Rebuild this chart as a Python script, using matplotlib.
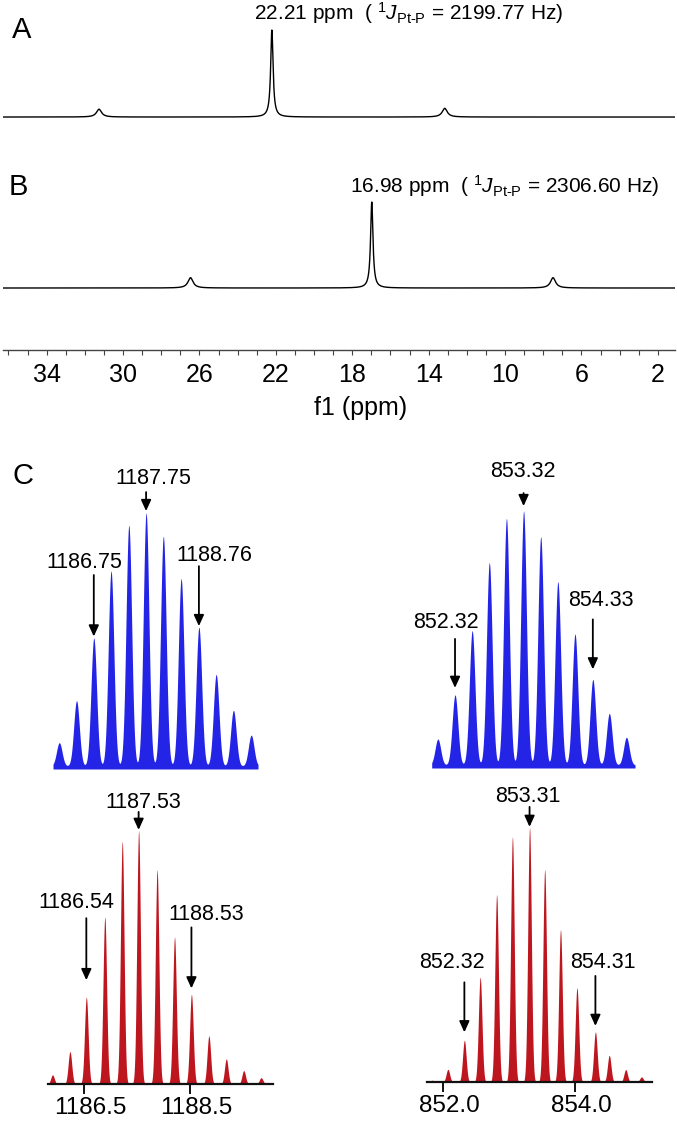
import numpy as np
import matplotlib
matplotlib.use('Agg')
import matplotlib.pyplot as plt
import matplotlib.transforms as mtransforms
from matplotlib.ticker import FixedLocator, MultipleLocator, FormatStrFormatter

plt.rcParams['font.family'] = ['Liberation Sans', 'DejaVu Sans']
plt.rcParams['mathtext.fontset'] = 'custom'
plt.rcParams['mathtext.rm'] = 'Liberation Sans'
plt.rcParams['mathtext.it'] = 'Liberation Sans:italic'
plt.rcParams['mathtext.bf'] = 'Liberation Sans:bold'

# 31P NMR: peak shifts (ppm) and relative heights (centre peak + 195Pt satellites)
a_shift = [31.26, 22.21, 13.16]
a_height = [0.09, 1.00, 0.10]
a_text = r'22.21 ppm  ( $^{\mathit{1}}J_{\mathrm{Pt\text{-}P}}$ = 2199.77 Hz)'

b_shift = [26.47, 16.98, 7.49]
b_height = [0.12, 1.00, 0.12]
b_text = r'16.98 ppm  ( $^{\mathit{1}}J_{\mathrm{Pt\text{-}P}}$ = 2306.60 Hz)'

nmr_ticks = [34, 30, 26, 22, 18, 14, 10, 6, 2]

# ESI-MS isotope patterns (m/z, relative intensity %)
blue_l_mz = [1186.09, 1186.42, 1186.75, 1187.08, 1187.42, 1187.75,
             1188.08, 1188.42, 1188.76, 1189.09, 1189.42, 1189.76]
blue_l_int = [9.2, 25.8, 50.6, 77.1, 95.2, 100, 90.8, 74.1, 54.9, 36.2, 22.0, 12.2]

blue_r_mz = [852.07, 852.32, 852.57, 852.82, 853.07, 853.32,
             853.57, 853.82, 854.07, 854.33, 854.57, 854.82]
blue_r_int = [10.2, 27.6, 52.9, 79.7, 97.1, 100, 89.9, 72.2, 51.6, 33.7, 20.3, 10.9]

red_l_mz = [1185.90, 1186.23, 1186.54, 1186.89, 1187.22, 1187.53, 1187.88,
            1188.21, 1188.53, 1188.86, 1189.19, 1189.52, 1189.85]
red_l_int = [3.6, 12.8, 34.3, 65.9, 95.8, 100, 84.6, 58.0, 35.4, 19.0, 9.9, 5.3, 2.5]

red_r_mz = [851.83, 852.07, 852.32, 852.56, 852.81, 853.05, 853.31,
            853.54, 853.78, 854.03, 854.31, 854.52, 854.77, 855.01]
red_r_int = [0.7, 5.0, 16.4, 41.2, 73.7, 96.4, 100, 83.6, 59.9, 37.1, 19.7, 10.5, 4.9, 2.0]

red_l_ticks = [1186.5, 1188.5]
red_r_ticks = [852.0, 854.0]

# labelled peaks (index into the arrays above) and their labels
blue_l_marks = [(5, '1187.75'), (2, '1186.75'), (8, '1188.76')]
blue_r_marks = [(5, '853.32'), (1, '852.32'), (9, '854.33')]
red_l_marks = [(5, '1187.53'), (2, '1186.54'), (8, '1188.53')]
red_r_marks = [(6, '853.31'), (2, '852.32'), (10, '854.31')]

# ---------------------------------------------------------------
W, H = 677, 1124
PT = 72 / 100.0  # points per pixel
fig = plt.figure(figsize=(W / 100, H / 100), dpi=100)


def box(x0, y0, x1, y1):
    # axes from a pixel box (top-left origin)
    return fig.add_axes([x0 / W, 1 - y1 / H, (x1 - x0) / W, (y1 - y0) / H])


def lorentz(x, centres, heights, hw):
    y = np.zeros_like(x)
    for c, h, g in zip(centres, heights, hw):
        y += h * g ** 2 / ((x - c) ** 2 + g ** 2)
    return y


def gauss(x, centres, heights, s):
    y = np.zeros_like(x)
    for c, h in zip(centres, heights):
        y += h * np.exp(-(x - c) ** 2 / (2 * s ** 2))
    return y


# NMR spectra
ppm = np.linspace(36.4, 1.0, 8000)
nmr_hw = [0.16, 0.075, 0.16]
nmr_xlim = (36.27, 1.105)

axA = box(3.3, 20, 675, 130)
axA.plot(ppm, lorentz(ppm, a_shift, a_height, nmr_hw), color='black', lw=1.0)
axA.set_xlim(nmr_xlim)
axA.set_ylim(-0.149, 1.115)
axA.axis('off')

axB = box(3.3, 190, 675, 350)
axB.plot(ppm, lorentz(ppm, b_shift, b_height, nmr_hw), color='black', lw=1.0)
axB.set_xlim(nmr_xlim)
axB.set_ylim(-0.721, 1.14)
axB.patch.set_visible(False)
for s in ['top', 'left', 'right']:
    axB.spines[s].set_visible(False)
axB.spines['bottom'].set_color('#444444')
axB.spines['bottom'].set_linewidth(1.0)
axB.set_yticks([])
axB.xaxis.set_major_locator(FixedLocator(nmr_ticks))
axB.xaxis.set_minor_locator(MultipleLocator(1))
axB.tick_params(axis='x', which='both', direction='out', length=5 * PT,
                width=0.8, color='#444444')
axB.tick_params(axis='x', which='major', labelsize=18, pad=6)

fig.text(409 / W, 1 - 20 / H, a_text, ha='center', va='baseline', fontsize=15)
fig.text(505 / W, 1 - 193 / H, b_text, ha='center', va='baseline', fontsize=15)
fig.text(361 / W, 1 - 415 / H, 'f1 (ppm)', ha='center', va='baseline', fontsize=18)

fig.text(12 / W, 1 - 38 / H, 'A', ha='left', va='baseline', fontsize=21)
fig.text(9 / W, 1 - 195 / H, 'B', ha='left', va='baseline', fontsize=21)
fig.text(13 / W, 1 - 484 / H, 'C', ha='left', va='baseline', fontsize=21)


# MS panels
def ms_panel(ax, mz, inten, colour, sigma, xlim, ylim, marks, layout):
    x = np.linspace(xlim[0], xlim[1], 4000)
    y = gauss(x, mz, inten, sigma)
    ax.fill_between(x, ylim[0], y, color=colour, lw=0)
    ax.set_xlim(xlim)
    ax.set_ylim(ylim)
    for (i, lab), (dx, base, tail, tip) in zip(marks, layout):
        ax.annotate('', xy=(mz[i], inten[i]), xytext=(0, tail * PT),
                    textcoords='offset points',
                    arrowprops=dict(arrowstyle='-|>,head_length=0.55,head_width=0.25',
                                    color='black', lw=1.3, shrinkA=0,
                                    shrinkB=tip * PT, mutation_scale=12))
        ax.annotate(lab, xy=(mz[i], inten[i]), xytext=(dx * PT, base * PT),
                    textcoords='offset points', ha='center', va='baseline',
                    fontsize=15.5, annotation_clip=False)


blue = '#2424E6'
red = '#BE161E'

# (text dx, text baseline above peak, arrow tail above peak, gap under tip) in px
ax1 = box(53, 505, 258, 769)
ms_panel(ax1, blue_l_mz, blue_l_int, blue, 0.0535, (1185.97, 1189.89),
         (-1.2, 103.2), blue_l_marks,
         [(7, 29.5, 21, 2), (-9, 70, 63, 1.5), (15, 66, 61, 1)])
ax1.axis('off')

ax2 = box(431.7, 505, 635, 768)
ms_panel(ax2, blue_r_mz, blue_r_int, blue, 0.041, (851.98, 854.945),
         (-1.2, 102.4), blue_r_marks,
         [(-1, 34, 18, 5), (-9, 67, 56, 7), (8, 73, 60, 10)])
ax2.axis('off')

ax3 = box(48.3, 820, 273.3, 1084)
ms_panel(ax3, red_l_mz, red_l_int, red, 0.034, (1185.82, 1190.08),
         (0, 104.3), red_l_marks,
         [(5, 23, 19, 1), (-10, 89, 79, 17), (15, 74, 67, 6)])

ax4 = box(427.3, 820, 652.3, 1082)
ms_panel(ax4, red_r_mz, red_r_int, red, 0.027, (851.757, 855.174),
         (0, 103.1), red_r_marks,
         [(-1.5, 26, 21, 1), (-12, 72, 58, 8), (7, 64, 56, 6)])

for ax, ticks in [(ax3, red_l_ticks), (ax4, red_r_ticks)]:
    ax.patch.set_visible(False)
    for s in ['top', 'left', 'right']:
        ax.spines[s].set_visible(False)
    ax.spines['bottom'].set_linewidth(1.6)
    ax.spines['bottom'].set_color('#111111')
    ax.set_yticks([])
    ax.xaxis.set_major_locator(FixedLocator(ticks))
    ax.xaxis.set_major_formatter(FormatStrFormatter('%.1f'))
    ax.tick_params(axis='x', direction='out', length=10 * PT, width=1.4,
                   color='#111111', labelsize=17.5, pad=2.2)
    shift = mtransforms.ScaledTranslation(6 / 100, 0, fig.dpi_scale_trans)
    for lbl in ax.get_xticklabels():
        lbl.set_transform(lbl.get_transform() + shift)

fig.savefig('out.png', dpi=100)
